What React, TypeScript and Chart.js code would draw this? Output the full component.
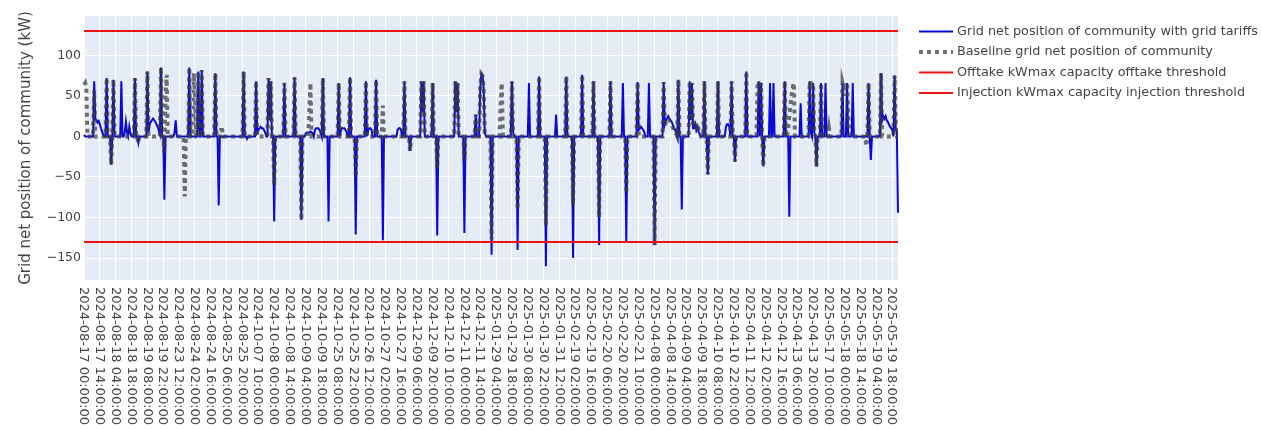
import React, { useEffect, useRef } from 'react';
import { Chart, registerables } from 'chart.js';

Chart.register(...registerables);

// ---- Categories: hourly timestamps of the days present in the data ----
const blockDays: string[][] = [
  ['2024-08-17', '2024-08-18', '2024-08-19'],
  ['2024-08-23', '2024-08-24', '2024-08-25'],
  ['2024-10-07', '2024-10-08', '2024-10-09'],
  ['2024-10-25', '2024-10-26', '2024-10-27'],
  ['2024-12-09', '2024-12-10', '2024-12-11'],
  ['2025-01-29', '2025-01-30', '2025-01-31'],
  ['2025-02-19', '2025-02-20', '2025-02-21'],
  ['2025-04-08', '2025-04-09', '2025-04-10', '2025-04-11', '2025-04-12', '2025-04-13'],
  ['2025-05-17', '2025-05-18', '2025-05-19'],
];

const tickLabels: string[] = [
  '2024-08-17 00:00:00', '2024-08-17 14:00:00', '2024-08-18 04:00:00', '2024-08-18 18:00:00',
  '2024-08-19 08:00:00', '2024-08-19 22:00:00', '2024-08-23 12:00:00', '2024-08-24 02:00:00',
  '2024-08-24 16:00:00', '2024-08-25 06:00:00', '2024-08-25 20:00:00', '2024-10-07 10:00:00',
  '2024-10-08 00:00:00', '2024-10-08 14:00:00', '2024-10-09 04:00:00', '2024-10-09 18:00:00',
  '2024-10-25 08:00:00', '2024-10-25 22:00:00', '2024-10-26 12:00:00', '2024-10-27 02:00:00',
  '2024-10-27 16:00:00', '2024-12-09 06:00:00', '2024-12-09 20:00:00', '2024-12-10 10:00:00',
  '2024-12-11 00:00:00', '2024-12-11 14:00:00', '2025-01-29 04:00:00', '2025-01-29 18:00:00',
  '2025-01-30 08:00:00', '2025-01-30 22:00:00', '2025-01-31 12:00:00', '2025-02-19 02:00:00',
  '2025-02-19 16:00:00', '2025-02-20 06:00:00', '2025-02-20 20:00:00', '2025-02-21 10:00:00',
  '2025-04-08 00:00:00', '2025-04-08 14:00:00', '2025-04-09 04:00:00', '2025-04-09 18:00:00',
  '2025-04-10 08:00:00', '2025-04-10 22:00:00', '2025-04-11 12:00:00', '2025-04-12 02:00:00',
  '2025-04-12 16:00:00', '2025-04-13 06:00:00', '2025-04-13 20:00:00', '2025-05-17 10:00:00',
  '2025-05-18 00:00:00', '2025-05-18 14:00:00', '2025-05-19 04:00:00', '2025-05-19 18:00:00',
];

const yTicks: number[] = [-150, -100, -50, 0, 50, 100];

// ---- Grid net position with grid tariffs (kW), one array per block, 24 values per day ----
const tariffBlock1 = [
  2, 0, 0, 0, 0, 0, 0, 0, 0, 68, 22, 20, 17, 19, 15, 10, 6, 2, 0, 0, 72, 0, 0, 0,
  -35, 0, 70, 0, 0, 0, 0, 0, 0, 68, 0, 0, 5, 18, 5, 0, 12, 4, 0, 0, 0, 72, 0, 0,
  -8, 0, 0, 0, 0, 0, 0, 0, 80, 5, 15, 18, 20, 22, 20, 18, 15, 12, 8, 3, 85, 0, 0, -78,
];
const tariffBlock2 = [
  0, 0, 0, 0, 0, 0, 0, 0, 5, 20, 0, 0, 0, 0, 0, 0, 0, 0, 0, 0, 0, 85, 0, 0,
  0, 0, 0, 0, 0, 80, 0, 0, 82, 0, 0, 0, 0, 0, 0, 0, 0, 0, 0, 0, 78, 0, 0, -85,
  0, 0, 0, 0, 0, 0, 0, 0, 0, 0, 0, 0, 0, 0, 0, 0, 0, 0, 0, 0, 0, 80, 0, 0,
];
const tariffBlock3 = [
  -3, 0, 0, 0, 0, 0, 0, 0, 68, 5, 8, 10, 12, 10, 10, 8, 5, 0, 0, 72, 20, 68, 0, 0,
  -105, 0, 0, 0, 0, 0, 0, 0, 0, 66, 0, 0, 0, 0, 0, 0, 0, 0, 73, 0, 0, 0, 0, 0,
  -103, 0, 0, 0, 4, 5, 5, 5, 6, 5, 4, 0, 8, 10, 10, 10, 8, 5, 0, 72, 0, 0, 0, 0,
];
const tariffBlock4 = [
  -105, 0, 0, 0, 0, 0, 0, 0, 0, 66, 0, 8, 10, 10, 10, 8, 5, 0, 0, 73, 0, 0, 0, 0,
  -121, 0, 0, 0, 0, 0, 0, 0, 0, 68, 0, 8, 10, 10, 8, 0, 0, 0, 70, 0, 0, 0, 0, 0,
  -128, 0, 0, 0, 0, 0, 0, 0, 0, 0, 0, 0, 0, 8, 10, 10, 8, 0, 0, 68, 0, 0, 0, 0,
];
const tariffBlock5 = [
  -18, 0, 0, 0, 0, 0, 0, 0, 0, 0, 68, 30, 68, 0, 0, 0, 0, 0, 0, 0, 66, 0, 0, 0,
  -122, 0, 0, 0, 0, 0, 0, 0, 0, 0, 0, 0, 0, 0, 0, 0, 68, 30, 66, 0, 0, 0, 0, 0,
  -119, 0, 0, 0, 0, 0, 0, 0, 0, 0, 27, 0, 0, 0, 60, 77, 75, 60, 5, 0, 0, 0, 0, 0,
];
const tariffBlock6 = [
  -146, 0, 0, 0, 0, 0, 0, 0, 0, 0, 0, 0, 0, 0, 0, 0, 0, 0, 68, 5, 0, 0, 0, -140,
  0, 0, 0, 0, 0, 0, 0, 0, 0, 66, 0, 0, 0, 0, 0, 0, 0, 0, 74, 0, 0, 0, 0, 0,
  -160, 0, 0, 0, 0, 0, 0, 0, 0, 27, 0, 0, 0, 0, 0, 0, 0, 0, 74, 0, 0, 0, 0, 0,
];
const tariffBlock7 = [
  -150, 0, 0, 0, 0, 0, 0, 0, 76, 0, 0, 0, 0, 0, 0, 0, 0, 0, 68, 0, 0, 0, 0, -134,
  0, 0, 0, 0, 0, 0, 0, 0, 0, 68, 0, 0, 0, 0, 0, 0, 0, 0, 0, 0, 66, 0, 0, -130,
  0, 0, 0, 0, 0, 0, 0, 0, 0, 67, 8, 10, 12, 10, 8, 5, 0, 0, 0, 66, 0, 0, 0, 0,
];
const tariffBlock8 = [
  -134, 0, 0, 0, 0, 0, 0, 0, 67, 15, 20, 22, 25, 22, 20, 18, 15, 10, 8, 5, 0, 70, 0, 0,
  -90, 0, 0, 0, 0, 0, 0, 68, 20, 66, 10, 10, 15, 8, 12, 5, 3, 0, 0, 0, 68, 0, 0, -47,
  0, 0, 0, 0, 0, 0, 0, 0, 68, 0, 0, 0, 0, 0, 0, 12, 15, 15, 12, 0, 68, 0, 0, -31,
  0, 0, 0, 0, 0, 0, 0, 0, 0, 80, 0, 0, 0, 0, 0, 0, 0, 0, 0, 0, 68, 0, 66, 0,
  -37, 0, 0, 0, 0, 0, 66, 0, 0, 66, 0, 0, 0, 0, 0, 0, 0, 0, 0, 68, 0, 0, 0, -99,
  0, 0, 0, 0, 0, 0, 0, 0, 0, 41, 0, 0, 0, 0, 0, 0, 0, 68, 5, 0, 66, 5, 0, -37,
];
const tariffBlock9 = [
  0, 0, 0, 66, 0, 0, 0, 66, 0, 0, 0, 0, 0, 0, 0, 0, 0, 0, 0, 0, 0, 0, 66, 0,
  0, 0, 66, 0, 0, 0, 0, 66, 0, 0, 0, 0, 0, 0, 0, 0, 0, 0, 0, 0, 0, 66, 0, -29,
  0, 0, 0, 0, 0, 0, 0, 0, 78, 20, 25, 22, 25, 20, 18, 15, 12, 10, 8, 0, 75, 10, 5, -94,
];

// ---- Baseline grid net position (kW) ----
const baselineBlock1 = [
  64, 66, 60, 0, 0, 0, 0, 0, 0, 57, 0, 0, 0, 0, 0, 0, 0, 0, 0, 0, 72, 0, 0, 0,
  -35, 0, 70, 0, 0, 0, 0, 0, 0, 0, 0, 0, 0, 0, 0, 0, 0, 0, 0, 0, 0, 72, 0, 0,
  -8, 0, 0, 0, 0, 0, 0, 0, 80, 0, 0, 0, 0, 0, 0, 0, 0, 0, 0, 0, 85, 0, 0, -20,
];
const baselineBlock2 = [
  50, 76, 0, 0, 0, 0, 0, 0, 0, 0, 0, 0, 0, 0, 0, 0, 0, -74, 0, 0, 0, 85, 0, 0,
  0, 78, 50, 0, 0, 80, 0, 0, 82, 0, 0, 0, 0, 0, 0, 0, 0, 0, 0, 0, 78, 0, 0, 0,
  0, 8, 8, 0, 0, 0, 0, 0, 0, 0, 0, 0, 0, 0, 0, 0, 0, 0, 0, 0, 0, 80, 0, 0,
];
const baselineBlock3 = [
  0, 0, 0, 0, 0, 0, 0, 0, 68, 0, 0, 0, 0, 0, 0, 0, 0, 0, 0, 72, 20, 68, 0, 0,
  -60, 0, 0, 0, 0, 0, 0, 0, 0, 66, 0, 0, 0, 0, 0, 0, 0, 0, 73, 0, 0, 0, 0, 0,
  -103, 0, 0, 0, 0, 0, 0, 30, 66, 0, 0, 0, 0, 0, 0, 0, 0, 0, 0, 72, 0, 0, 0, 0,
];
const baselineBlock4 = [
  0, 0, 0, 0, 0, 0, 0, 0, 0, 66, 0, 0, 0, 0, 0, 0, 0, 0, 0, 73, 0, 0, 0, 0,
  -50, 0, 0, 0, 0, 0, 0, 0, 0, 68, 0, 0, 0, 0, 0, 0, 0, 0, 70, 0, 0, 0, 0, 0,
  38, 0, 0, 0, 0, 0, 0, 0, 0, 0, 0, 0, 0, 0, 0, 0, 0, 0, 0, 68, 0, 0, 0, 0,
];
const baselineBlock5 = [
  -18, 0, 0, 0, 0, 0, 0, 0, 0, 0, 68, 30, 68, 0, 0, 0, 0, 0, 0, 0, 66, 0, 0, 0,
  -40, 0, 0, 0, 0, 0, 0, 0, 0, 0, 0, 0, 0, 0, 0, 0, 68, 30, 66, 0, 0, 0, 0, 0,
  -30, 0, 0, 0, 0, 0, 0, 0, 0, 0, 27, 0, 0, 0, 60, 77, 75, 60, 5, 0, 0, 0, 0, 0,
];
const baselineBlock6 = [
  -127, 0, 0, 0, 0, 0, 0, 0, 40, 66, 0, 0, 0, 0, 0, 0, 0, 0, 68, 5, 0, 0, 0, -90,
  0, 0, 0, 0, 0, 0, 0, 0, 0, 0, 0, 0, 0, 0, 0, 0, 0, 0, 74, 0, 0, 0, 0, 0,
  -110, 0, 0, 0, 0, 0, 0, 0, 0, 0, 0, 0, 0, 0, 0, 0, 0, 0, 74, 0, 0, 0, 0, 0,
];
const baselineBlock7 = [
  -85, 0, 0, 0, 0, 0, 0, 0, 76, 0, 0, 0, 0, 0, 0, 0, 0, 0, 68, 0, 0, 0, 0, -100,
  0, 0, 0, 0, 0, 0, 0, 0, 0, 68, 0, 0, 0, 0, 0, 0, 0, 0, 0, 0, 0, 0, 0, -70,
  0, 0, 0, 0, 0, 0, 0, 0, 0, 67, 0, 0, 0, 0, 0, 0, 0, 0, 0, 0, 0, 0, 0, 0,
];
const baselineBlock8 = [
  -134, 0, 0, 0, 0, 0, 0, 0, 67, 12, 18, 20, 22, 20, 18, 15, 12, 8, 5, 3, 0, 70, 0, 0,
  0, 0, 0, 0, 0, 0, 0, 68, 20, 66, 12, 18, 20, 12, 15, 8, 3, 0, 0, 0, 68, 0, 0, -47,
  0, 0, 0, 0, 0, 0, 0, 0, 68, 0, 0, 0, 0, 0, 0, 0, 0, 0, 0, 0, 68, 0, 0, -31,
  0, 0, 0, 0, 0, 0, 0, 0, 0, 80, 0, 0, 0, 0, 0, 0, 0, 0, 0, 66, 68, 50, 66, 0,
  -37, 0, 0, 0, 0, 0, 0, 0, 0, 0, 0, 0, 0, 0, 0, 0, 0, 0, 0, 68, 0, 0, 10, 25,
  38, 50, 60, 66, 0, 0, 0, 0, 0, 0, 0, 0, 0, 0, 0, 0, 0, 68, 60, 66, 66, 5, 0, -37,
];
const baselineBlock9 = [
  0, 0, 0, 66, 0, 0, 0, 0, 0, 0, 10, 0, 0, 0, 0, 0, 0, 0, 0, 0, 0, 0, 66, 60,
  66, 50, 66, 30, 0, 0, 0, 0, 0, 0, 0, 0, 0, 0, 0, 0, 0, 0, 0, -12, 0, 66, 0, 0,
  0, 0, 0, 0, 0, 0, 0, 0, 78, 0, 0, 0, 0, 0, 0, 0, 0, 0, 0, 0, 75, 10, 0, 0,
];

const offtakeThreshold = 130;
const injectionThreshold = -130;

const seriesNames = [
  'Grid net position of community with grid tariffs',
  'Baseline grid net position of community',
  'Offtake kWmax capacity offtake threshold',
  'Injection kWmax capacity injection threshold',
];

const categories: string[] = blockDays.flat().flatMap((day) =>
  Array.from({ length: 24 }, (_, h) => `${day} ${String(h).padStart(2, '0')}:00:00`)
);

const tariff: number[] = [
  ...tariffBlock1, ...tariffBlock2, ...tariffBlock3, ...tariffBlock4, ...tariffBlock5,
  ...tariffBlock6, ...tariffBlock7, ...tariffBlock8, ...tariffBlock9,
];
const baseline: number[] = [
  ...baselineBlock1, ...baselineBlock2, ...baselineBlock3, ...baselineBlock4, ...baselineBlock5,
  ...baselineBlock6, ...baselineBlock7, ...baselineBlock8, ...baselineBlock9,
];

const FONT = "'DejaVu Sans', Verdana, sans-serif";
const TEXT = '#444';
const BLUE = 'rgb(10,10,215)';
const GREY = 'rgba(60,60,60,0.72)';
const RED = 'rgb(235,20,20)';

const plotBg = {
  id: 'plotBg',
  beforeDraw(chart: any) {
    const { ctx, chartArea: a } = chart;
    ctx.save();
    ctx.fillStyle = '#E5ECF6';
    ctx.fillRect(a.left, a.top, a.right - a.left, a.bottom - a.top);
    ctx.restore();
  },
};

const decorations = {
  id: 'decorations',
  afterDraw(chart: any) {
    const { ctx, chartArea: a } = chart;
    const xs = chart.scales.x;
    ctx.save();
    // x tick labels, rotated clockwise (reading downwards)
    ctx.fillStyle = TEXT;
    ctx.font = `13px ${FONT}`;
    ctx.textAlign = 'left';
    ctx.textBaseline = 'middle';
    tickLabels.forEach((lbl) => {
      const idx = categories.indexOf(lbl);
      if (idx < 0) return;
      const x = xs.getPixelForValue(idx);
      ctx.save();
      ctx.translate(x - 0.5, a.bottom + 7);
      ctx.rotate(Math.PI / 2);
      ctx.fillText(lbl, 0, 0);
      ctx.restore();
    });
    // y axis title
    ctx.save();
    ctx.font = `15px ${FONT}`;
    ctx.textAlign = 'center';
    ctx.textBaseline = 'middle';
    ctx.translate(26, (a.top + a.bottom) / 2);
    ctx.rotate(-Math.PI / 2);
    ctx.fillText('Grid net position of community (kW)', 0, 0);
    ctx.restore();
    // legend
    const lx0 = 919;
    const lx1 = 953;
    const tx = 957;
    const rows = [31.5, 52, 72.5, 93];
    const styles = [
      { color: BLUE, width: 2, dash: [] as number[] },
      { color: GREY, width: 4, dash: [4, 4] },
      { color: RED, width: 2, dash: [] as number[] },
      { color: RED, width: 2, dash: [] as number[] },
    ];
    ctx.font = `12.8px ${FONT}`;
    ctx.textAlign = 'left';
    ctx.textBaseline = 'middle';
    rows.forEach((y, k) => {
      const s = styles[k];
      ctx.save();
      ctx.strokeStyle = s.color;
      ctx.lineWidth = s.width;
      ctx.setLineDash(s.dash);
      ctx.beginPath();
      ctx.moveTo(lx0, y);
      ctx.lineTo(lx1, y);
      ctx.stroke();
      ctx.restore();
      ctx.fillStyle = TEXT;
      ctx.fillText(seriesNames[k], tx, y);
    });
    ctx.restore();
  },
};

export default function App() {
  const ref = useRef<HTMLCanvasElement>(null);
  useEffect(() => {
    if (!ref.current) return;
    const last = categories[categories.length - 1];
    const chart = new Chart(ref.current, {
      type: 'line',
      data: {
        labels: categories,
        datasets: [
          {
            label: seriesNames[0],
            data: tariff,
            borderColor: BLUE,
            borderWidth: 2,
            pointRadius: 0,
            tension: 0,
            order: 3,
          },
          {
            label: seriesNames[1],
            data: baseline,
            borderColor: GREY,
            borderWidth: 4,
            borderDash: [4, 4],
            pointRadius: 0,
            tension: 0,
            order: 2,
          },
          {
            label: seriesNames[2],
            data: [
              { x: categories[0], y: offtakeThreshold },
              { x: last, y: offtakeThreshold },
            ] as any,
            borderColor: RED,
            borderWidth: 2,
            pointRadius: 0,
            order: 1,
          },
          {
            label: seriesNames[3],
            data: [
              { x: categories[0], y: injectionThreshold },
              { x: last, y: injectionThreshold },
            ] as any,
            borderColor: RED,
            borderWidth: 2,
            pointRadius: 0,
            order: 0,
          },
        ],
      },
      options: {
        animation: false,
        responsive: false,
        devicePixelRatio: 1,
        events: [],
        layout: { padding: { top: 16, right: 364, left: 0, bottom: 0 } },
        plugins: {
          legend: { display: false },
          tooltip: { enabled: false },
        },
        scales: {
          x: {
            type: 'category',
            offset: false,
            ticks: { display: false },
            grid: {
              color: (c: any) => (c.index % 14 === 0 ? '#ffffff' : 'rgba(0,0,0,0)'),
              lineWidth: 1,
              drawTicks: false,
            },
            border: { display: false },
            afterFit: (s: any) => {
              s.height = 150;
            },
          },
          y: {
            type: 'linear',
            min: -177,
            max: 148.5,
            afterBuildTicks: (s: any) => {
              s.ticks = yTicks.map((v) => ({ value: v }));
            },
            ticks: {
              padding: 3,
              color: TEXT,
              font: { family: FONT, size: 12.5 },
              callback: (v: any) => String(v).replace('-', '\u2212'),
            },
            grid: {
              color: '#ffffff',
              lineWidth: (c: any) => (c.tick && c.tick.value === 0 ? 2 : 1),
              drawTicks: false,
            },
            border: { display: false },
            afterFit: (s: any) => {
              s.width = 84;
            },
          },
        },
      },
      plugins: [plotBg, decorations],
    });
    return () => chart.destroy();
  }, []);
  return (
    <div style={{ position: 'absolute', left: 0, top: 0, width: 1262, height: 430, background: '#fff' }}>
      <canvas ref={ref} width={1262} height={430} style={{ display: 'block', width: 1262, height: 430 }} />
    </div>
  );
}
